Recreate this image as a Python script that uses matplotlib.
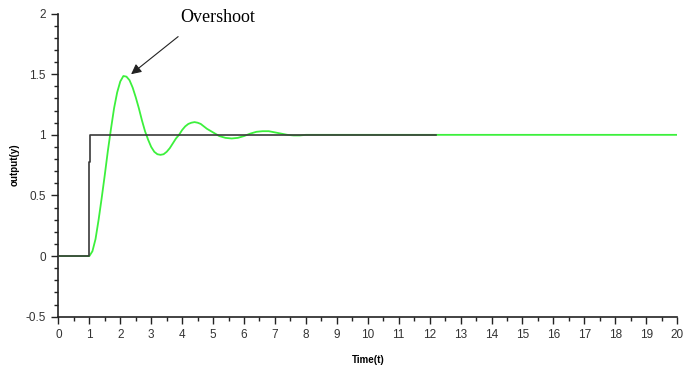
import numpy as np
import matplotlib
matplotlib.use("Agg")
import matplotlib.pyplot as plt
from matplotlib.ticker import MultipleLocator

# step input
step_t = [0, 0.98, 0.98, 1.03, 1.03, 12.2]
step_y = [0, 0, 0.78, 0.78, 1.0, 1.0]

# system response
resp_t = [0, 1.0, 1.1, 1.2, 1.3, 1.4, 1.5, 1.6, 1.7, 1.8, 1.9, 2.0, 2.1, 2.2,
          2.3, 2.4, 2.5, 2.6, 2.7, 2.8, 2.9, 3.0, 3.1, 3.2, 3.3, 3.4, 3.5,
          3.6, 3.7, 3.8, 3.9, 4.0, 4.1, 4.2, 4.3, 4.4, 4.5, 4.6, 4.7, 4.8,
          4.9, 5.0, 5.1, 5.2, 5.4, 5.6, 5.8, 6.0, 6.2, 6.4, 6.6, 6.8, 7.0,
          7.2, 7.4, 7.6, 7.8, 8.0, 20]
resp_y = [0, 0, 0.04, 0.14, 0.30, 0.48, 0.67, 0.87, 1.05, 1.22, 1.35, 1.44,
          1.485, 1.48, 1.45, 1.39, 1.31, 1.22, 1.12, 1.03, 0.96, 0.90, 0.86,
          0.84, 0.835, 0.84, 0.86, 0.89, 0.93, 0.97, 1.0, 1.04, 1.07, 1.09,
          1.10, 1.105, 1.10, 1.09, 1.07, 1.05, 1.035, 1.02, 1.005, 0.99,
          0.975, 0.97, 0.975, 0.99, 1.01, 1.025, 1.03, 1.03, 1.02, 1.01, 1.0,
          0.995, 0.995, 1.0, 1.0]

fig = plt.figure(figsize=(6.91, 3.67), dpi=100)
ax = fig.add_axes([0.0845, 0.137, 0.8955, 0.826])

ax.plot(resp_t, resp_y, color='#3cf03c', lw=1.3, zorder=2)
ax.plot(step_t, step_y, color='#3a3a3a', lw=1.2, zorder=3)

ax.set_xlim(0, 20)
ax.set_ylim(-0.5, 2)
ax.xaxis.set_major_locator(MultipleLocator(1))
ax.xaxis.set_minor_locator(MultipleLocator(0.5))
ax.yaxis.set_major_locator(MultipleLocator(0.5))
ax.yaxis.set_minor_locator(MultipleLocator(0.1))
ax.set_yticks([-0.5, 0, 0.5, 1, 1.5, 2])
ax.set_yticklabels(['-0.5', '0', '0.5', '1', '1.5', '2'])

for s in ['top', 'right']:
    ax.spines[s].set_visible(False)
for s in ['left', 'bottom']:
    ax.spines[s].set_linewidth(1.2)
    ax.spines[s].set_color('#222222')

ax.tick_params(which='major', direction='out', length=5, width=1, color='#222222',
               labelsize=8.5, labelcolor='#333333', pad=4)
ax.tick_params(which='minor', direction='out', length=3, width=1, color='#222222')

for lbl in ax.get_xticklabels() + ax.get_yticklabels():
    lbl.set_family('Liberation Sans')

ax.set_xlabel('Time(t)', fontsize=7, fontweight='bold', family='Liberation Sans', labelpad=10)
ax.set_ylabel('output(y)', fontsize=7, fontweight='bold', family='Liberation Sans', labelpad=4)

ax.text(5.16, 1.97, 'Overshoot', ha='center', va='center', fontsize=13,
        family='Liberation Serif')
ax.annotate('', xy=(2.35, 1.5), xytext=(3.87, 1.81), annotation_clip=False,
            arrowprops=dict(arrowstyle='-|>', color='#222222', lw=0.8,
                            mutation_scale=15, shrinkA=0, shrinkB=0))

fig.savefig('out.png', dpi=100)
